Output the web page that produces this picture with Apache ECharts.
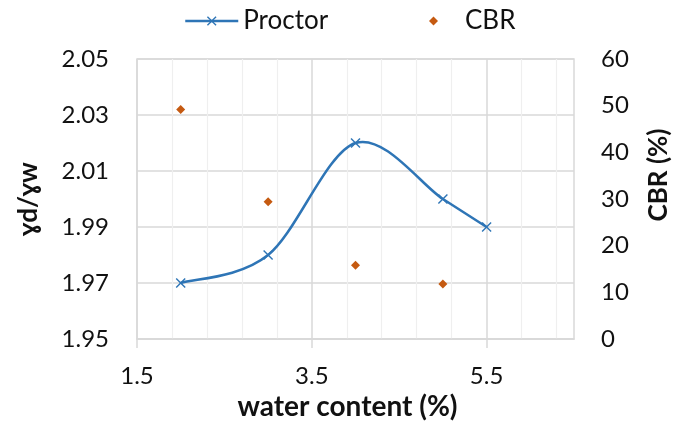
<!DOCTYPE html>
<html>
<head>
<meta charset="utf-8">
<script src="https://cdn.jsdelivr.net/npm/echarts@6/dist/echarts.min.js"></script>
<style>
  html, body { margin: 0; padding: 0; background: #fff; }
  #chart { width: 680px; height: 428px; }
</style>
</head>
<body>
<div id="chart"></div>
<script>
// Compaction test: dry density ratio and CBR against water content
const waterContent = [2, 3, 4, 5, 5.5];
const proctor = [1.97, 1.98, 2.02, 2.00, 1.99];
const cbrWater = [2, 3, 4, 5];
const cbr = [49.2, 29.4, 15.8, 11.8];
const xTicks = [1.5, 3.5, 5.5];

const FONT = 'Lato, "Open Sans", "DejaVu Sans", sans-serif';
const BLUE = '#2e75b6';
const ORANGE = '#c55a11';
const GRID = '#d9d9d9';
const MINOR = '#efefef';
const TEXT = '#111';

// filled "x" marker
const CROSS = 'path://M0,1L1,0L5,4L9,0L10,1L6,5L10,9L9,10L5,6L1,10L0,9L4,5Z';

const proctorPoints = waterContent.map((x, i) => [x, proctor[i]]);

// Catmull-Rom style cubic Bezier through the projected points
function smoothPath(pts) {
  let d = 'M' + pts[0][0] + ',' + pts[0][1];
  for (let i = 0; i < pts.length - 1; i++) {
    const p0 = pts[Math.max(i - 1, 0)];
    const p1 = pts[i];
    const p2 = pts[i + 1];
    const p3 = pts[Math.min(i + 2, pts.length - 1)];
    const c1x = p1[0] + (p2[0] - p0[0]) / 6;
    const c1y = p1[1] + (p2[1] - p0[1]) / 6;
    const c2x = p2[0] - (p3[0] - p1[0]) / 6;
    const c2y = p2[1] - (p3[1] - p1[1]) / 6;
    d += 'C' + c1x + ',' + c1y + ',' + c2x + ',' + c2y + ',' + p2[0] + ',' + p2[1];
  }
  return d;
}

const legendText = { fontFamily: FONT, fontSize: 26, color: TEXT };
const nameStyle = { fontFamily: FONT, fontSize: 26, fontWeight: 'bold', color: TEXT };

const chart = echarts.init(document.getElementById('chart'), null, { renderer: 'canvas' });

chart.setOption({
  animation: false,
  backgroundColor: '#fff',
  textStyle: { fontFamily: FONT, color: TEXT },
  legend: [
    {
      top: 3, left: 179,
      itemWidth: 53, itemHeight: 12, itemGap: 6,
      lineStyle: { color: BLUE, width: 2.5, opacity: 1 },
      textStyle: legendText,
      data: ['Proctor']
    },
    {
      top: 3, left: 424,
      itemWidth: 9, itemHeight: 9, itemGap: 6,
      textStyle: Object.assign({}, legendText, { padding: [0, 0, 0, 22] }),
      data: [{ name: 'CBR', icon: 'diamond' }]
    }
  ],
  grid: {
    left: 137, right: 103, top: 59, bottom: 89,
    show: true, borderColor: GRID, borderWidth: 1.5,
    containLabel: false
  },
  xAxis: {
    type: 'value',
    min: 1.5, max: 6.5, interval: 2,
    name: 'water content (%)',
    nameLocation: 'middle',
    nameGap: 48,
    nameTextStyle: Object.assign({}, nameStyle, { fontSize: 28, padding: [0, 16, 0, 0] }),
    axisLine: { show: true, lineStyle: { color: GRID, width: 1.5 } },
    axisTick: { show: true, customValues: xTicks, length: 9, lineStyle: { color: GRID, width: 1.5 } },
    axisLabel: {
      customValues: xTicks,
      margin: 25,
      fontFamily: FONT, fontSize: 24, color: TEXT,
      formatter: v => v.toFixed(1)
    },
    splitLine: { show: true, lineStyle: { color: GRID, width: 1.5 } },
    minorTick: { show: false, splitNumber: 5 },
    minorSplitLine: { show: true, lineStyle: { color: MINOR, width: 1.2 } }
  },
  yAxis: [
    {
      type: 'value',
      min: 1.95, max: 2.05, interval: 0.02,
      name: 'ɣd/ɣw',
      nameLocation: 'middle',
      nameRotate: 90,
      nameGap: 95,
      nameTextStyle: nameStyle,
      axisLine: { show: false },
      axisTick: { show: false },
      axisLabel: { margin: 28, fontFamily: FONT, fontSize: 24, color: TEXT, formatter: v => v.toFixed(2) },
      splitLine: { show: true, lineStyle: { color: GRID, width: 1.5 } }
    },
    {
      type: 'value',
      min: 0, max: 60, interval: 10,
      name: 'CBR (%)',
      nameLocation: 'middle',
      nameRotate: 90,
      nameGap: 72,
      nameTextStyle: Object.assign({}, nameStyle, { padding: [0, 0, 0, 48] }),
      axisLine: { show: false },
      axisTick: { show: false },
      axisLabel: { margin: 27, fontFamily: FONT, fontSize: 24, color: TEXT },
      splitLine: { show: false }
    }
  ],
  series: [
    {
      // smoothed curve through the Proctor points
      name: 'Proctor curve',
      type: 'custom',
      yAxisIndex: 0,
      data: proctorPoints,
      z: 2,
      silent: true,
      renderItem: (params, api) => {
        if (params.dataIndex !== 0) return null;
        const pts = proctorPoints.map(p => api.coord(p));
        return {
          type: 'path',
          shape: { pathData: smoothPath(pts) },
          style: { fill: 'none', stroke: BLUE, lineWidth: 2.5 }
        };
      }
    },
    {
      name: 'Proctor',
      type: 'line',
      yAxisIndex: 0,
      symbol: CROSS,
      symbolSize: 10,
      showAllSymbol: true,
      itemStyle: { color: BLUE },
      lineStyle: { color: BLUE, width: 2.5, opacity: 0 },
      data: proctorPoints,
      z: 3
    },
    {
      name: 'CBR',
      type: 'scatter',
      yAxisIndex: 1,
      symbol: 'diamond',
      symbolSize: 9,
      itemStyle: { color: ORANGE, opacity: 1 },
      data: cbrWater.map((x, i) => [x, cbr[i]]),
      z: 4
    }
  ]
});
</script>
</body>
</html>
